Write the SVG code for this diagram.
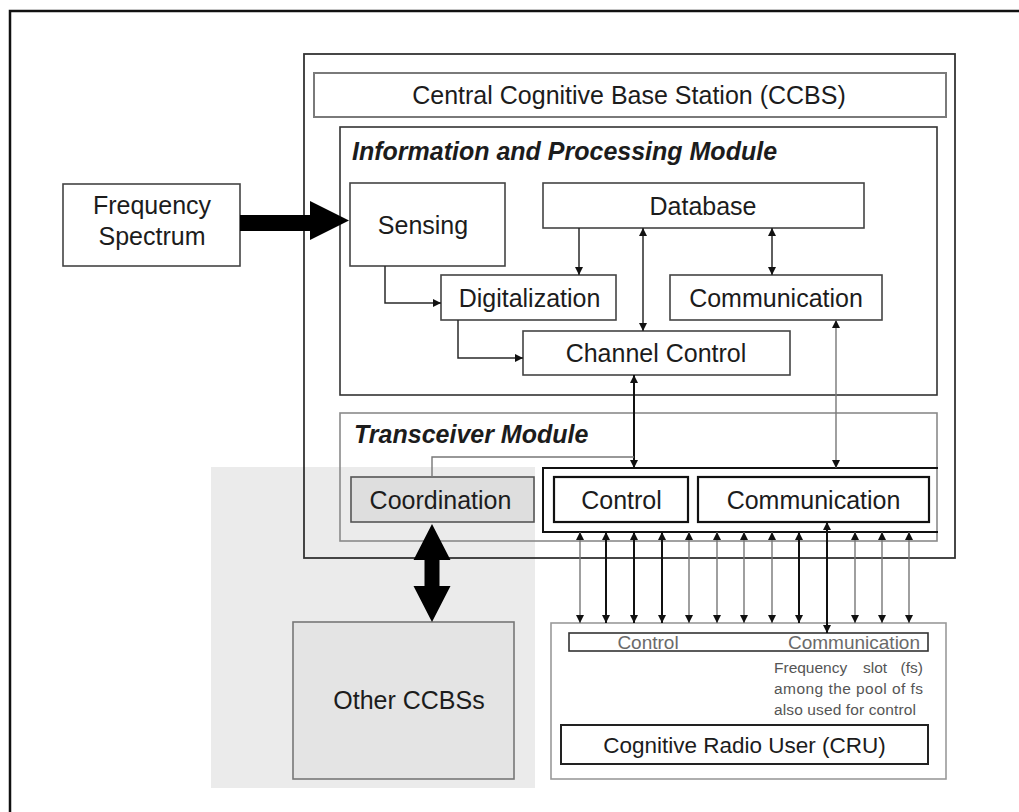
<svg xmlns="http://www.w3.org/2000/svg" width="1019" height="812" viewBox="0 0 1019 812">
<style>
  text { font-family: "Liberation Sans", Arial, sans-serif; fill: #1c1c1c; }
  .lbl { font-size: 25px; text-anchor: middle; }
  .mod { font-size: 25px; font-weight: bold; font-style: italic; }
  .box { fill: none; stroke: #444; stroke-width: 1.6; }
  .boxk { fill: none; stroke: #111; stroke-width: 2.2; }
  .lt { fill: none; stroke: #8a8a8a; stroke-width: 1.6; }
  .con { fill: none; stroke: #2a2a2a; stroke-width: 1.5; }
  .cong { fill: none; stroke: #777; stroke-width: 1.4; }
  .conk { fill: none; stroke: #111; stroke-width: 2; }
  .small { font-size: 15.5px; fill: #555; }
  .strip { font-size: 19px; fill: #6a6a6a; text-anchor: middle; }
</style>
<defs>
  <marker id="ah" viewBox="0 0 10 10" refX="10" refY="5" markerWidth="9" markerHeight="8" markerUnits="userSpaceOnUse" orient="auto-start-reverse">
    <path d="M0,0 L10,5 L0,10 z" fill="#111"/>
  </marker>
</defs>
<rect x="0" y="0" width="1019" height="812" fill="#ffffff"/>
<path d="M10,812 V11 H1019" fill="none" stroke="#111" stroke-width="2.5"/>

<!-- grey region behind Other CCBSs -->
<rect id="other-region" x="211" y="467" width="324" height="321" fill="#ebebeb"/>

<g id="ccbs">
  <rect x="304" y="54" width="651" height="504" fill="none" stroke="#333" stroke-width="1.8"/>
</g>
<g id="ccbs-title">
  <rect x="314" y="73" width="632" height="44" fill="none" stroke="#7a7a7a" stroke-width="2"/>
  <text class="lbl" x="629" y="103.5">Central Cognitive Base Station (CCBS)</text>
</g>

<g id="ipm">
  <rect x="340" y="127" width="597" height="268" fill="none" stroke="#333" stroke-width="1.6"/>
  <text class="mod" x="352" y="160">Information and Processing Module</text>
</g>

<g id="freq-spectrum">
  <rect class="box" x="63" y="184" width="177" height="82"/>
  <text class="lbl" x="152" y="214">Frequency</text>
  <text class="lbl" x="152" y="245">Spectrum</text>
</g>

<g id="sensing">
  <rect class="box" x="350" y="183" width="155" height="83"/>
  <text class="lbl" x="423" y="234">Sensing</text>
</g>

<g id="database">
  <rect class="box" x="543" y="183" width="321" height="45"/>
  <text class="lbl" x="703" y="214.5">Database</text>
</g>

<g id="digitalization">
  <rect class="box" x="441" y="275" width="175" height="45"/>
  <text class="lbl" x="529.5" y="306.5">Digitalization</text>
</g>

<g id="communication-ipm">
  <rect class="box" x="670" y="275" width="212" height="45"/>
  <text class="lbl" x="776" y="306.5">Communication</text>
</g>

<g id="channel-control">
  <rect class="box" x="523" y="331" width="267" height="44"/>
  <text class="lbl" x="656" y="362">Channel Control</text>
</g>

<g id="transceiver">
  <rect x="340" y="413" width="597" height="128" fill="none" stroke="#8a8a8a" stroke-width="1.6"/>
  <text class="mod" x="354" y="443">Transceiver Module</text>
</g>

<g id="coordination">
  <rect x="351" y="477" width="183" height="45" fill="#dedede" stroke="#555" stroke-width="1.6"/>
  <text class="lbl" x="440.5" y="508.5">Coordination</text>
</g>

<g id="control-comm-group">
  <path d="M938,468 H543 V532 H938" fill="none" stroke="#111" stroke-width="2"/>
</g>

<g id="control">
  <rect class="boxk" x="554" y="477" width="134" height="45"/>
  <text class="lbl" x="621.5" y="508.5">Control</text>
</g>

<g id="communication-trx">
  <rect class="boxk" x="698" y="477" width="231" height="45"/>
  <text class="lbl" x="813.5" y="508.5">Communication</text>
</g>

<g id="other-ccbss">
  <rect x="293" y="622" width="221" height="157" fill="#e4e4e4" stroke="#777" stroke-width="1.6"/>
  <text class="lbl" x="409" y="709">Other CCBSs</text>
</g>

<g id="cru-area">
  <rect x="551" y="623" width="395" height="156" fill="none" stroke="#9a9a9a" stroke-width="1.6"/>
</g>

<g id="strip">
  <rect x="569" y="633" width="359" height="18" fill="none" stroke="#333" stroke-width="1.6"/>
  <text class="strip" x="648" y="649">Control</text>
  <text class="strip" x="854" y="649">Communication</text>
</g>

<g id="fs-note">
  <text class="small" x="774" y="673">Frequency</text>
  <text class="small" x="863" y="673">slot</text>
  <text class="small" x="923" y="673" text-anchor="end">(fs)</text>
  <text class="small" x="774" y="694" textLength="149" lengthAdjust="spacing">among the pool of fs</text>
  <text class="small" x="774" y="715" textLength="142" lengthAdjust="spacing">also used for control</text>
</g>

<g id="cru">
  <rect x="561" y="725" width="367" height="39" fill="none" stroke="#222" stroke-width="2"/>
  <text x="744.5" y="752.5" font-size="22.5" text-anchor="middle">Cognitive Radio User (CRU)</text>
</g>

<g id="connectors">
  <!-- big arrow Frequency Spectrum -> Sensing -->
  <polygon points="240,215 310,215 310,201 349,220.5 310,240 310,231 240,231" fill="#000"/>
  <!-- big double arrow Coordination <-> Other CCBSs -->
  <polygon points="432,524 450.5,560 439.5,560 439.5,586 450.5,586 432,622 413.5,586 424.5,586 424.5,560 413.5,560" fill="#000"/>

  <path class="con" d="M385,266 V303 H441" marker-end="url(#ah)"/>
  <path class="con" d="M579,228 V275" marker-end="url(#ah)"/>
  <path class="con" d="M643,228 V331" marker-start="url(#ah)" marker-end="url(#ah)"/>
  <path class="con" d="M772,228 V275" marker-start="url(#ah)" marker-end="url(#ah)"/>
  <path class="con" d="M458,320 V358 H523" marker-end="url(#ah)"/>
  <path class="conk" d="M634,375 V468" marker-start="url(#ah)" marker-end="url(#ah)"/>
  <path class="cong" d="M836,320 V468" marker-start="url(#ah)" marker-end="url(#ah)"/>
  <path class="cong" d="M432,477 V457 H634"/>

  <!-- transceiver <-> CRU frequency slots -->
  <path class="cong" d="M580,532 V623" marker-start="url(#ah)" marker-end="url(#ah)"/>
  <path class="conk" d="M606,532 V623" marker-start="url(#ah)" marker-end="url(#ah)"/>
  <path class="conk" d="M634,532 V623" marker-start="url(#ah)" marker-end="url(#ah)"/>
  <path class="conk" d="M662,532 V623" marker-start="url(#ah)" marker-end="url(#ah)"/>
  <path class="cong" d="M689,532 V623" marker-start="url(#ah)" marker-end="url(#ah)"/>
  <path class="cong" d="M717,532 V623" marker-start="url(#ah)" marker-end="url(#ah)"/>
  <path class="cong" d="M744,532 V623" marker-start="url(#ah)" marker-end="url(#ah)"/>
  <path class="cong" d="M772,532 V623" marker-start="url(#ah)" marker-end="url(#ah)"/>
  <path class="conk" d="M799,532 V623" marker-start="url(#ah)" marker-end="url(#ah)"/>
  <path class="conk" d="M827,522 V633" marker-start="url(#ah)" marker-end="url(#ah)"/>
  <path class="cong" d="M855,532 V623" marker-start="url(#ah)" marker-end="url(#ah)"/>
  <path class="cong" d="M882,532 V623" marker-start="url(#ah)" marker-end="url(#ah)"/>
  <path class="cong" d="M909,532 V623" marker-start="url(#ah)" marker-end="url(#ah)"/>
</g>
</svg>
